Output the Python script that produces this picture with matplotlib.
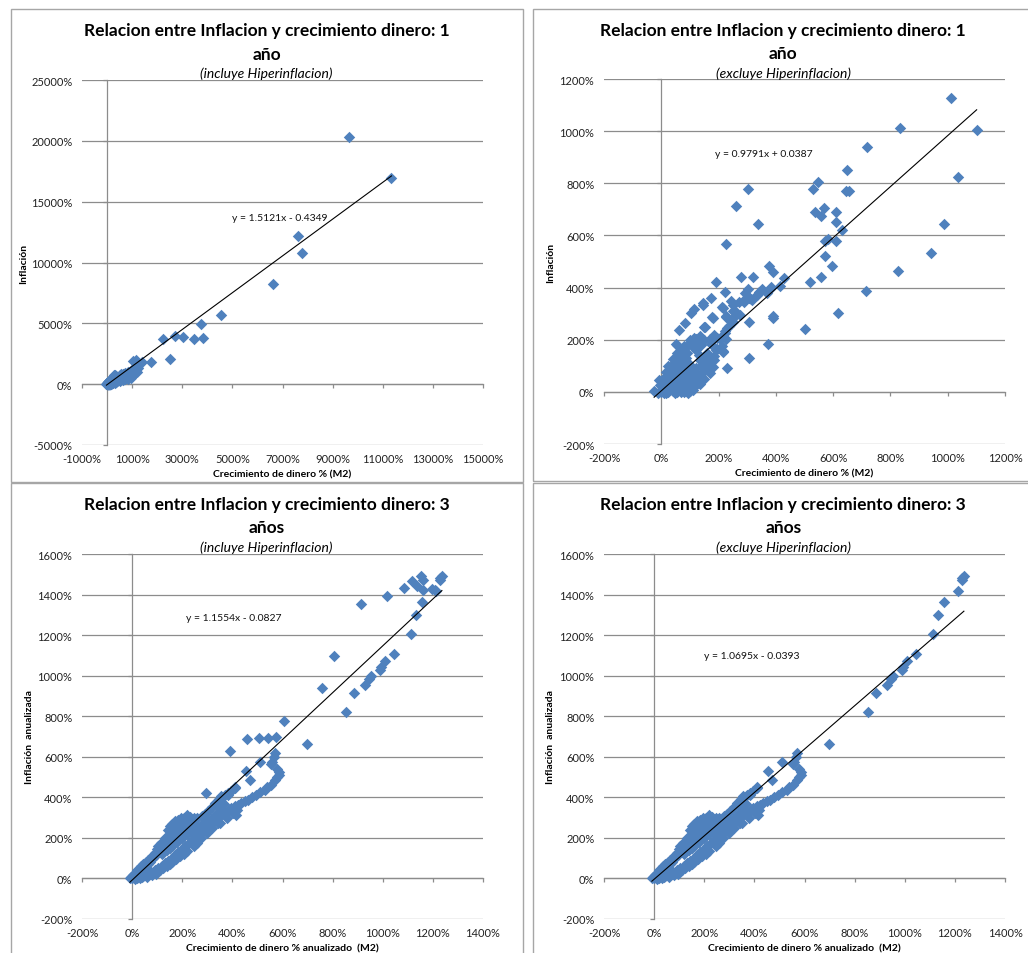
import matplotlib
matplotlib.use("Agg")
import matplotlib.pyplot as plt
from matplotlib.patches import Rectangle

plt.rcParams['font.family'] = ['Lato', 'DejaVu Sans']

# Textos de cada panel
titles = ["Relacion entre Inflacion y crecimiento dinero: 1\naño",
          "Relacion entre Inflacion y crecimiento dinero: 1\naño",
          "Relacion entre Inflacion y crecimiento dinero: 3\naños",
          "Relacion entre Inflacion y crecimiento dinero: 3\naños"]
subtitles = ["(incluye Hiperinflacion)", "(excluye Hiperinflacion)",
             "(incluye Hiperinflacion)", "(excluye Hiperinflacion)"]
xlabels = ["Crecimiento de dinero % (M2)", "Crecimiento de dinero % (M2)",
           "Crecimiento de dinero % anualizado  (M2)", "Crecimiento de dinero % anualizado  (M2)"]
ylabels = ["Inflación", "Inflación", "Inflación  anualizada", "Inflación  anualizada"]

# Ecuaciones de tendencia (pendiente, intercepto en fraccion)
slopes = [1.5121, 0.9791, 1.1554, 1.0695]
intercepts = [-0.4349, 0.0387, -0.0827, -0.0393]

# Ticks de los ejes (%)
xticks = [list(range(-1000, 15001, 2000)), list(range(-200, 1201, 200)),
          list(range(-200, 1401, 200)), list(range(-200, 1401, 200))]
yticks = [list(range(-5000, 25001, 5000)), list(range(-200, 1201, 200)),
          list(range(-200, 1601, 200)), list(range(-200, 1601, 200))]

# 1 año, sin hiperinflacion (x = crecimiento M2 %, y = inflacion %)
one_year_base = [
    (1013, 1128), (835, 1013), (1101, 1006), (719, 941), (1037, 826), (650, 852),
    (546, 804), (530, 778), (645, 769), (655, 769), (301, 778), (260, 713),
    (537, 690), (569, 707), (609, 690), (559, 676), (610, 652), (338, 645),
    (988, 642), (632, 619), (610, 580), (573, 579), (583, 588), (225, 567),
    (941, 533), (570, 523), (595, 483), (828, 465), (375, 481), (391, 459),
    (558, 439), (518, 422), (428, 435), (279, 441), (320, 441), (190, 423),
    (221, 384), (714, 386), (304, 396), (350, 396), (342, 384), (414, 406),
    (380, 396), (617, 302), (502, 240), (374, 183), (305, 128), (229, 92),
    (143, 54), (390, 291), (305, 268), (251, 268), (227, 291), (212, 326),
    (144, 339), (172, 360), (177, 288), (113, 317), (102, 304), (84, 264),
    (63, 236), (52, 184), (148, 249), (243, 348), (251, 309), (270, 344),
    (289, 351), (313, 358), (333, 371), (205, 204), (227, 204), (222, 224),
    (229, 245), (215, 153), (173, 204), (120, 204), (135, 121), (158, 109),
    (185, 121), (275, 294), (147, 334), (179, 283), (151, 248), (214, 321),
    (226, 286), (256, 309), (249, 334), (391, 283), (55, 178), (293, 378),
    (305, 360), (288, 344), (317, 353), (334, 372), (351, 389), (369, 378),
    (384, 401), (258, 290), (244, 270), (235, 251), (223, 232), (212, 216),
    (194, 207), (183, 220), (171, 201), (212, 175), (217, 156), (194, 163),
    (183, 137),
    (-25, 2), (-12, -5), (0, 0), (10, -3), (25, 0), (40, 2), (55, 0), (70, 1),
    (85, 3), (100, 5), (112, 6), (-7, 45), (18, -6), (48, -4), (78, -2), (95, -3),
    (-5, 25), (10, 22), (25, 20), (40, 25), (55, 18), (70, 22), (85, 28),
    (100, 20), (120, 25), (135, 30), (32, 12), (62, 10), (92, 12), (108, 35),
    (5, 50), (20, 48), (35, 55), (50, 45), (65, 52), (80, 48), (95, 55),
    (110, 45), (130, 50), (150, 48), (48, 35), (78, 38), (118, 60), (140, 62),
    (15, 75), (30, 80), (45, 70), (60, 78), (75, 72), (90, 80), (105, 75),
    (125, 70), (145, 78), (170, 72), (52, 88), (82, 62), (160, 88),
    (25, 100), (40, 105), (55, 98), (70, 108), (85, 95), (100, 102), (140, 100),
    (160, 105), (180, 95), (120, 90), (62, 115), (95, 112),
    (40, 125), (55, 130), (70, 122), (85, 128), (150, 125), (170, 130), (182, 125),
    (55, 150), (70, 155), (90, 148), (120, 160), (160, 150), (190, 160),
    (80, 175), (95, 180), (110, 172), (125, 185), (140, 178), (175, 182),
    (100, 200), (115, 205), (135, 215), (150, 198), (65, 140), (130, 140),
]

# 1 año, solo episodios de hiperinflacion
one_year_hyper = [
    (9661, 20329), (11349, 16959), (7601, 12137), (7787, 10740), (6618, 8192),
    (4558, 5726), (3748, 4986), (3827, 3808), (3468, 3753), (3030, 3890),
    (2724, 3973), (2233, 3699), (2512, 2082), (1754, 1808), (1382, 1808),
    (1169, 1973), (1050, 1890), (1200, 1600), (1100, 1400), (1250, 1300),
    (1150, 1150), (1000, 1200), (1200, 1000), (900, 1000), (1050, 800), (950, 700),
]

# 3 años, sin hiperinflacion (anualizado %)
three_year_base = [
    (1236, 1493), (1230, 1480), (1227, 1470), (1211, 1420), (1156, 1361),
    (1131, 1299), (1114, 1205), (1043, 1109), (1007, 1070), (994, 1045),
    (990, 1026), (954, 1000), (944, 984), (928, 954), (885, 913), (852, 821),
    (699, 664),
    (569, 617), (565, 600), (560, 575), (509, 573), (556, 566), (580, 540),
    (588, 525), (588, 512), (579, 500), (569, 487), (553, 463), (540, 450),
    (529, 438), (512, 425), (496, 413), (480, 400), (463, 388), (450, 380),
    (436, 372), (423, 362), (410, 356), (456, 528), (469, 484), (412, 451),
    (383, 413), (367, 328), (396, 347), (416, 314), (343, 273), (303, 257),
    (410, 446), (395, 430), (383, 421), (370, 410), (356, 405), (345, 390),
    (330, 372), (318, 350), (303, 331), (290, 318), (277, 306), (260, 300),
    (245, 296), (230, 305), (217, 314), (205, 300), (197, 298), (185, 290),
    (170, 281), (160, 270), (150, 257), (145, 240), (144, 207), (135, 195),
    (130, 200), (117, 174), (105, 160), (100, 145), (90, 125), (80, 110),
    (75, 100), (64, 92), (55, 80), (45, 70), (37, 59), (30, 50), (20, 40),
    (11, 26), (5, 15), (-9, 2), (0, 0), (-5, 5),
    (32, 10), (50, 15), (70, 20), (85, 26), (100, 35), (110, 40), (125, 50),
    (138, 59), (150, 70), (160, 80), (175, 95), (191, 109), (205, 120),
    (220, 135), (245, 158), (260, 175), (275, 200), (298, 224), (320, 250),
    (351, 273), (380, 300), (404, 323), (420, 340),
    (10, -2), (20, 0), (30, 3), (40, 5), (60, 8), (80, 15), (95, 20),
    (120, 120), (140, 140), (160, 160), (180, 180), (200, 200), (220, 220),
    (240, 240), (260, 250), (190, 230), (210, 250), (170, 210), (230, 270),
    (250, 265), (280, 270), (300, 290),
    (258, 211), (263, 216), (250, 199), (177, 117), (141, 76),
    # relleno de la banda superior
    (15, 12), (25, 28), (38, 40), (50, 55), (62, 70), (72, 82), (85, 100),
    (95, 115), (108, 130), (118, 145), (128, 160), (138, 175), (148, 190),
    (158, 215), (165, 240), (175, 255), (190, 270), (205, 280), (220, 290),
    (235, 285), (155, 230), (168, 265), (180, 275), (212, 265), (200, 245),
    # relleno de la banda inferior y zona central
    (45, 12), (60, 18), (75, 28), (90, 40), (105, 50), (118, 62), (130, 75),
    (145, 88), (160, 100), (170, 115), (185, 130), (198, 145), (212, 160),
    (225, 175), (238, 190), (252, 210), (268, 225), (285, 240), (300, 255),
    (310, 270), (325, 285), (340, 300), (355, 315), (370, 330), (385, 340),
    (150, 150), (165, 170), (185, 195), (205, 215), (225, 235), (245, 225),
    (270, 245), (290, 265), (315, 295), (335, 320), (350, 345), (365, 365),
    (20, 15), (35, 22), (55, 30), (65, 45), (8, 8), (25, 5),
]

# 3 años, solo episodios de hiperinflacion
three_year_hyper = [
    (1151, 1493), (1160, 1473), (1116, 1465), (1136, 1440), (1083, 1432),
    (1160, 1424), (1195, 1428), (1209, 1424), (1016, 1394), (915, 1355),
    (804, 1098), (758, 938), (604, 777), (391, 630), (458, 688), (508, 691),
    (544, 691), (573, 696), (294, 421),
]

panels = [one_year_base + one_year_hyper, one_year_base,
          three_year_base + three_year_hyper, three_year_base]

# Posicion del texto de la ecuacion (coordenadas de datos)
eq_pos = [(5000, 13700), (187, 916), (216, 1287), (199, 1100)]
ylabel_x = [-0.135, -0.122, -0.12, -0.122]

W, H = 1028, 954
fig = plt.figure(figsize=(W / 100, H / 100), dpi=100)

# Cajas de cada grafico (px) y areas de trazado (px)
frames = [(10.5, 10, 522.5, 483), (532.5, 9.5, 1030, 482),
          (10.5, 483.5, 522.5, 960), (532.5, 483.5, 1030, 960)]
plots = [(82, 81, 483, 446), (604, 80, 1005, 445),
         (82, 555, 483, 920), (604, 555, 1005, 920)]

grid_c = '#8c8c8c'
blue = '#4f81bd'

for i in range(4):
    fx0, fy0, fx1, fy1 = frames[i]
    fig.add_artist(Rectangle((fx0 / W, 1 - fy1 / H), (fx1 - fx0) / W, (fy1 - fy0) / H,
                             transform=fig.transFigure, fill=False,
                             edgecolor='#a6a6a6', linewidth=1.0))
    px0, py0, px1, py1 = plots[i]
    ax = fig.add_axes([px0 / W, 1 - py1 / H, (px1 - px0) / W, (py1 - py0) / H])
    ax.patch.set_visible(False)

    xs = [p[0] for p in panels[i]]
    ys = [p[1] for p in panels[i]]
    ax.scatter(xs, ys, marker='D', s=34, color=blue, linewidths=0, zorder=3)

    # linea de tendencia
    xmin, xmax = min(xs), max(xs)
    ax.plot([xmin, xmax],
            [slopes[i] * xmin + intercepts[i] * 100, slopes[i] * xmax + intercepts[i] * 100],
            color='black', linewidth=0.8, zorder=4)

    sign = '+' if intercepts[i] >= 0 else '-'
    ax.text(eq_pos[i][0], eq_pos[i][1],
            "y = %.4fx %s %.4f" % (slopes[i], sign, abs(intercepts[i])),
            fontsize=7.5, ha='left', va='center', color='#111111', zorder=5)

    xt, yt = xticks[i], yticks[i]
    ax.set_xlim(xt[0], xt[-1])
    ax.set_ylim(yt[0], yt[-1])
    ax.set_xticks(xt)
    ax.set_yticks(yt)
    ax.grid(axis='y', color=grid_c, linewidth=0.9)
    ax.set_axisbelow(True)
    for s in ['top', 'right']:
        ax.spines[s].set_visible(False)
    ax.spines['bottom'].set_position(('data', 0))
    ax.spines['left'].set_position(('data', 0))
    for s in ['bottom', 'left']:
        ax.spines[s].set_color(grid_c)
        ax.spines[s].set_linewidth(0.9)
    ax.tick_params(labelbottom=False, labelleft=False, length=3, width=0.9,
                   color=grid_c, direction='out')

    sx = ax.secondary_xaxis(0.0)
    sx.set_xticks(xt, ["%d%%" % v for v in xt])
    sx.tick_params(length=0, pad=6, labelsize=8, labelcolor='#222222')
    sx.spines['bottom'].set_visible(False)
    sy = ax.secondary_yaxis(0.0)
    sy.set_yticks(yt, ["%d%%" % v for v in yt])
    sy.tick_params(length=0, pad=7, labelsize=8, labelcolor='#222222')
    sy.spines['left'].set_visible(False)

    ax.set_xlabel(xlabels[i], fontsize=7.5, fontweight='bold')
    ax.xaxis.set_label_coords(0.5, -0.066)
    ax.set_ylabel(ylabels[i], fontsize=7.5, fontweight='bold')
    ax.yaxis.set_label_coords(ylabel_x[i], 0.5)

    cx = (fx0 + fx1) / 2
    if i % 2 == 1:
        cx = (fx0 + 1028) / 2 + 3
    fig.text(cx / W, 1 - (fy0 + 33) / H, titles[i], ha='center', va='center',
             fontsize=12.5, fontweight='bold', linespacing=1.55)
    fig.text(cx / W, 1 - (fy0 + 64) / H, subtitles[i], ha='center', va='center',
             fontsize=10, style='italic')

fig.savefig('out.png', dpi=100)
